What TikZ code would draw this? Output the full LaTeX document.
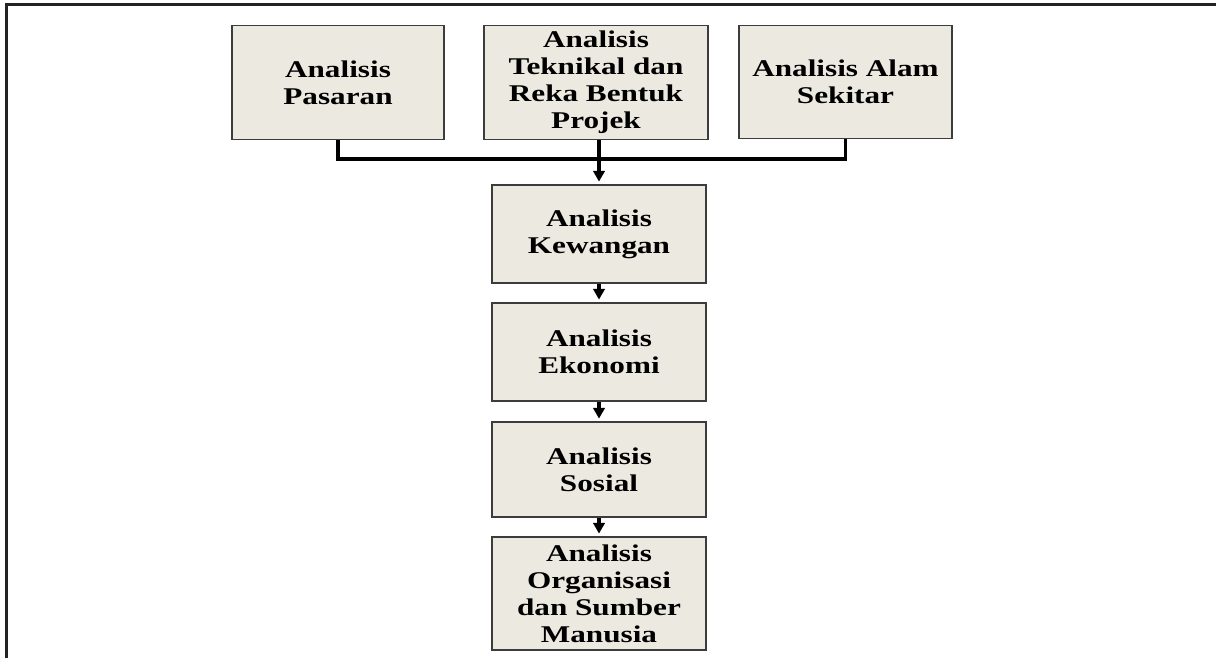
\documentclass[tikz,border=0pt]{standalone}
\usepackage{fontspec}
\setmainfont{Liberation Serif}[FakeStretch=1.3]
\usetikzlibrary{arrows.meta}
\definecolor{boxfill}{RGB}{236,234,224}
\definecolor{boxline}{RGB}{60,60,60}
\definecolor{framecol}{RGB}{35,35,35}
\begin{document}
\begin{tikzpicture}[x=0.75pt,y=-0.75pt,
  stagebox/.style={draw=boxline,line width=1.1pt,fill=boxfill,
    align=center,inner sep=0pt,
    font=\fontsize{18pt}{20.3pt}\selectfont\bfseries},
  conn/.style={line width=2.6pt,black},
  flow/.style={conn,-{Triangle[length=8pt,width=8.5pt]},shorten >=2pt}]
  \useasboundingbox (0,0) rectangle (1216,658);
  % page frame (top and left edges)
  \draw[framecol,line width=1.6pt] (6.5,658) -- (6.5,4.5) -- (1216,4.5);

  % top row of analyses
  \node[stagebox,minimum width=212*0.75pt,minimum height=114*0.75pt]
    (pas) at (338,82.5) {Analisis\\Pasaran};
  \node[stagebox,minimum width=224*0.75pt,minimum height=114*0.75pt]
    (tek) at (596,82.5) {Analisis\\Teknikal dan\\Reka Bentuk\\Projek};
  \node[stagebox,minimum width=213*0.75pt,minimum height=113*0.75pt]
    (alam) at (845.5,82) {Analisis Alam\\Sekitar};

  % vertical chain
  \node[stagebox,minimum width=214*0.75pt,minimum height=98*0.75pt]
    (kew) at (599,234) {Analisis\\Kewangan};
  \node[stagebox,minimum width=214*0.75pt,minimum height=98*0.75pt]
    (eko) at (599,352) {Analisis\\Ekonomi};
  \node[stagebox,minimum width=214*0.75pt,minimum height=95*0.75pt]
    (sos) at (599,469.5) {Analisis\\Sosial};
  \node[stagebox,minimum width=214*0.75pt,minimum height=113*0.75pt]
    (org) at (599,593.5) {Analisis\\Organisasi\\dan Sumber\\Manusia};

  % joining bus under the top row
  \coordinate (bus) at (599,159);
  \draw[conn] (pas.south) |- (bus) -| (alam.south);
  \draw[conn] (tek.south -| kew.north) -- (bus);
  \draw[flow] (bus) -- (kew.north);
  \draw[flow] (kew.south) -- (eko.north);
  \draw[flow] (eko.south) -- (sos.north);
  \draw[flow] (sos.south) -- (org.north);
\end{tikzpicture}
\end{document}
